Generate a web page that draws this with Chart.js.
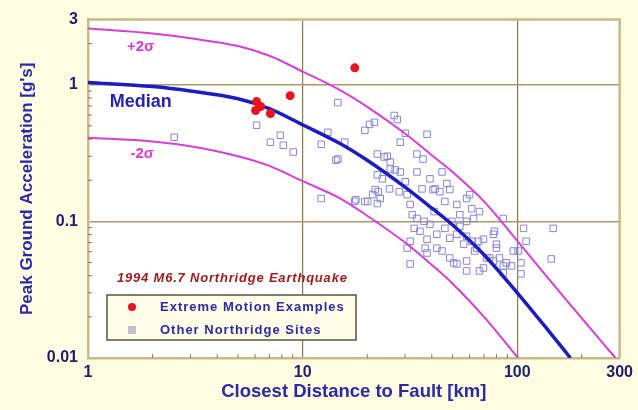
<!DOCTYPE html>
<html>
<head>
<meta charset="utf-8">
<script src="https://cdn.jsdelivr.net/npm/chart.js@4.4.1/dist/chart.umd.min.js"></script>
<style>
  html, body { margin: 0; padding: 0; background: #fffce2; }
  #wrap { width: 638px; height: 410px; }
</style>
</head>
<body>
<div id="wrap"><canvas id="chart" width="638" height="410"></canvas></div>
<script>
// axis ticks
const distTicks = [1, 10, 100, 300];
const pgaTicks = [0.01, 0.1, 1, 3];

// extreme motion examples (red dots)
const extremeDist = [6.1, 6.37, 6.04, 7.08, 8.75, 17.5];
const extremePga = [0.753, 0.693, 0.648, 0.616, 0.832, 1.33];

// other Northridge sites (open squares)
const siteDist = [
  2.52, 6.10, 7.08, 7.87, 8.13, 9.04, 14.6, 12.2, 13.1, 15.7,
  14.6, 19.5, 20.5, 27.6, 38.0, 30.1, 28.5, 22.3, 24.8, 25.6,
  34.1, 36.4, 27.0, 39.2, 47.0, 40.5, 48.5, 36.0, 30.1, 23.5,
  22.5, 21.8, 23.0, 17.7, 20.1, 12.2, 25.4, 22.3, 25.6, 21.2,
  19.5, 28.5, 30.7, 43.6, 46.0, 52.3, 58.1, 61.3, 31.7, 34.1,
  36.8, 39.2, 35.2, 38.0, 42.2, 46.0, 49.6, 54.0, 58.1, 62.6,
  66.7, 52.3, 56.3, 61.3, 69.6, 77.5, 80.0, 82.6, 71.9, 63.3,
  58.1, 52.3, 48.5, 42.2, 44.6, 30.7, 31.7, 38.0, 86.1, 22.3,
  17.5, 33.1, 31.7, 50.6, 58.1, 66.1, 69.6, 77.5, 86.1, 107,
  147, 110, 104, 144, 86.1, 95.9, 60.0, 78.3, 48.5, 64.7,
  74.3, 88.9, 101, 66.7, 104, 14.3, 21.6, 26.7, 24.0, 37.2,
  41.4, 54.0, 58.1, 32.4, 41.0, 28.2, 34.1, 44.6, 80.0, 94.0
];
const sitePga = [
  0.413, 0.505, 0.380, 0.427, 0.361, 0.322, 0.741, 0.367, 0.449, 0.380,
  0.286, 0.464, 0.513, 0.557, 0.434, 0.441, 0.380, 0.311, 0.300, 0.272,
  0.311, 0.286, 0.238, 0.205, 0.189, 0.171, 0.171, 0.173, 0.195, 0.205,
  0.165, 0.171, 0.147, 0.144, 0.140, 0.147, 0.173, 0.219, 0.242, 0.157,
  0.140, 0.230, 0.157, 0.165, 0.140, 0.133, 0.147, 0.124, 0.133, 0.105,
  0.100, 0.0951, 0.0847, 0.0741, 0.0805, 0.0889, 0.100, 0.112, 0.100, 0.105,
  0.118, 0.0805, 0.0681, 0.0716, 0.0741, 0.0805, 0.0637, 0.0540, 0.0540, 0.0607,
  0.0513, 0.0488, 0.0540, 0.0637, 0.0607, 0.0637, 0.0488, 0.0587, 0.105, 0.135,
  0.140, 0.0889, 0.0716, 0.0497, 0.0434, 0.0716, 0.0456, 0.0513, 0.0472, 0.0889,
  0.0889, 0.0716, 0.0497, 0.0531, 0.0420, 0.0607, 0.157, 0.0847, 0.0753, 0.0637,
  0.0540, 0.0497, 0.0607, 0.0434, 0.0413, 0.281, 0.531, 0.596, 0.296, 0.0637,
  0.173, 0.0920, 0.0778, 0.112, 0.118, 0.165, 0.230, 0.230, 0.0681, 0.0472
];

// median and +/- 2 sigma curves
const medianDist = [1, 2, 3, 5, 7, 10, 15, 20, 30, 40, 50, 70, 100, 140, 177];
const medianPga = [1.04, 0.97, 0.90, 0.79, 0.67, 0.51, 0.37, 0.28, 0.178, 0.125, 0.094, 0.057, 0.030, 0.0158, 0.010];
const upperDist = [1, 2, 3, 5, 7, 10, 15, 20, 30, 40, 50, 70, 100, 140, 200, 287];
const upperPga = [2.58, 2.37, 2.19, 1.92, 1.63, 1.25, 0.91, 0.69, 0.44, 0.305, 0.23, 0.14, 0.072, 0.038, 0.0195, 0.010];
const lowerDist = [1, 2, 3, 5, 7, 10, 15, 20, 30, 40, 50, 70, 101];
const lowerPga = [0.41, 0.385, 0.355, 0.30, 0.255, 0.197, 0.147, 0.11, 0.07, 0.048, 0.035, 0.020, 0.010];

const pairs = (xs, ys) => xs.map((x, i) => ({ x: x, y: ys[i] }));

const FONT = 'Liberation Sans';
const GRID = '#8a7a4a';
const TAN = '#c9b98a';

const framePlugin = {
  id: 'frame',
  beforeDraw(chart) {
    const { ctx, chartArea: a } = chart;
    ctx.save();
    ctx.fillStyle = '#fffce2';
    ctx.fillRect(0, 0, chart.width, chart.height);
    ctx.fillStyle = '#ffffff';
    ctx.fillRect(a.left, a.top, a.right - a.left, a.bottom - a.top);
    ctx.restore();
  },
  afterDraw(chart) {
    const { ctx, chartArea: a, scales } = chart;
    ctx.save();
    // top and right border
    ctx.strokeStyle = TAN;
    ctx.lineWidth = 2.5;
    ctx.beginPath();
    ctx.moveTo(a.left, a.top);
    ctx.lineTo(a.right, a.top);
    ctx.lineTo(a.right, a.bottom);
    ctx.stroke();
    // minor log ticks
    ctx.strokeStyle = GRID;
    ctx.lineWidth = 1;
    ctx.beginPath();
    for (let dec = 1; dec <= 100; dec *= 10) {
      for (let m = 2; m <= 9; m++) {
        const v = m * dec;
        if (v >= 300) break;
        const px = scales.x.getPixelForValue(v);
        ctx.moveTo(px, a.bottom);
        ctx.lineTo(px, a.bottom - 4);
      }
    }
    for (let dec = 0.01; dec <= 1; dec *= 10) {
      for (let m = 2; m <= 9; m++) {
        const v = m * dec;
        if (v >= 3) break;
        const py = scales.y.getPixelForValue(v);
        ctx.moveTo(a.left, py);
        ctx.lineTo(a.left + 4, py);
      }
    }
    ctx.stroke();
    ctx.restore();
  }
};

const notesPlugin = {
  id: 'notes',
  afterDatasetsDraw(chart) {
    const { ctx, chartArea: a, scales } = chart;
    const at = (xv, yv) => [scales.x.getPixelForValue(xv), scales.y.getPixelForValue(yv)];
    ctx.save();
    ctx.textBaseline = 'middle';
    ctx.textAlign = 'center';

    let p = at(1.76, 1.89);
    ctx.fillStyle = '#d23cd2';
    ctx.font = 'bold 15px ' + FONT;
    ctx.fillText('+2\u03c3', p[0], p[1]);
    p = at(1.79, 0.311);
    ctx.fillText('-2\u03c3', p[0], p[1]);

    p = at(1.76, 0.753);
    ctx.fillStyle = '#2424b4';
    ctx.font = 'bold 18px ' + FONT;
    ctx.fillText('Median', p[0], p[1]);

    // caption and legend box
    ctx.textAlign = 'left';
    ctx.fillStyle = '#a01c1c';
    ctx.font = 'italic bold 13px ' + FONT;
    ctx.letterSpacing = '0.8px';
    ctx.fillText('1994 M6.7 Northridge Earthquake', a.left + 29, 278);

    const bx = a.left + 19, by = 295, bw = 249, bh = 45;
    ctx.fillStyle = '#fffce8';
    ctx.fillRect(bx, by, bw, bh);
    ctx.strokeStyle = '#5a5440';
    ctx.lineWidth = 1.5;
    ctx.strokeRect(bx, by, bw, bh);

    ctx.fillStyle = '#e8141e';
    ctx.beginPath();
    ctx.arc(bx + 25, by + 12, 4, 0, Math.PI * 2);
    ctx.fill();
    ctx.fillStyle = '#c2c2cc';
    ctx.fillRect(bx + 21, by + 31, 8, 8);

    ctx.fillStyle = '#2a2aa6';
    ctx.font = 'bold 13px ' + FONT;
    ctx.letterSpacing = '1px';
    ctx.fillText('Extreme Motion Examples', bx + 53, by + 12);
    ctx.fillText('Other Northridge Sites', bx + 53, by + 35);
    ctx.restore();
  }
};

const tickFont = { family: FONT, weight: 'bold', size: 16 };

new Chart(document.getElementById('chart'), {
  type: 'scatter',
  data: {
    datasets: [
      {
        label: 'Extreme Motion Examples',
        data: pairs(extremeDist, extremePga),
        backgroundColor: '#e8141e',
        borderColor: '#e8141e',
        pointRadius: 4.5,
        pointBorderWidth: 0
      },
      {
        label: 'Median',
        data: pairs(medianDist, medianPga),
        showLine: true,
        borderColor: '#1c1cc0',
        borderWidth: 3.5,
        pointRadius: 0,
        cubicInterpolationMode: 'monotone'
      },
      {
        label: '+2 sigma',
        data: pairs(upperDist, upperPga),
        showLine: true,
        borderColor: '#d63ed6',
        borderWidth: 2,
        pointRadius: 0,
        cubicInterpolationMode: 'monotone'
      },
      {
        label: '-2 sigma',
        data: pairs(lowerDist, lowerPga),
        showLine: true,
        borderColor: '#d63ed6',
        borderWidth: 2,
        pointRadius: 0,
        cubicInterpolationMode: 'monotone'
      },
      {
        label: 'Other Northridge Sites',
        data: pairs(siteDist, sitePga),
        pointStyle: 'rect',
        pointRadius: 4.6,
        pointBorderWidth: 1,
        borderColor: '#8585dc',
        backgroundColor: 'rgba(0,0,0,0)'
      }
    ]
  },
  options: {
    responsive: false,
    animation: false,
    layout: { padding: { top: 17, right: 13, bottom: 0, left: 0 } },
    plugins: { legend: { display: false }, tooltip: { enabled: false } },
    scales: {
      x: {
        type: 'logarithmic',
        min: 1,
        max: 300,
        afterBuildTicks: s => { s.ticks = distTicks.map(v => ({ value: v })); },
        afterFit: s => { s.height = 52; },
        ticks: { callback: v => String(v), color: '#1e1e6e', font: tickFont, padding: 5, maxRotation: 0, autoSkip: false },
        grid: {
          drawTicks: false,
          lineWidth: 1.2,
          color: c => (c.tick && (c.tick.value === 10 || c.tick.value === 100)) ? GRID : 'rgba(0,0,0,0)'
        },
        border: { color: TAN, width: 2.5 },
        title: {
          display: true,
          text: 'Closest Distance to Fault [km]',
          color: '#2a2aa6',
          font: { family: FONT, weight: 'bold', size: 18.5 },
          padding: { top: 0, bottom: 7 }
        }
      },
      y: {
        type: 'logarithmic',
        min: 0.01,
        max: 3,
        afterBuildTicks: s => { s.ticks = pgaTicks.map(v => ({ value: v })); },
        afterFit: s => { s.width = 88; },
        ticks: { callback: v => String(v), color: '#1e1e6e', font: tickFont, padding: 10, autoSkip: false },
        grid: {
          drawTicks: false,
          lineWidth: 1.5,
          color: c => (c.tick && (c.tick.value === 0.1 || c.tick.value === 1)) ? '#a8986a' : 'rgba(0,0,0,0)'
        },
        border: { color: TAN, width: 2.5 },
        title: {
          display: true,
          text: "Peak Ground Acceleration [g's]",
          color: '#2a2aa6',
          font: { family: FONT, weight: 'bold', size: 17 },
          padding: { top: 17, bottom: 0 }
        }
      }
    }
  },
  plugins: [framePlugin, notesPlugin]
});
</script>
</body>
</html>
